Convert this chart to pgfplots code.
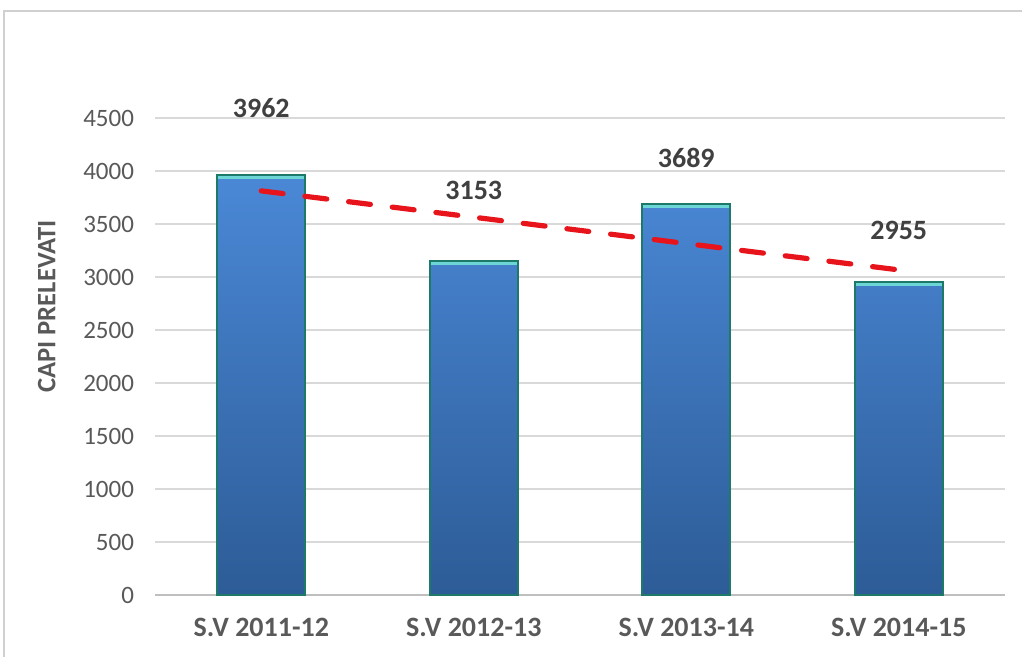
\documentclass[border=0pt]{standalone}
\usepackage{fontspec}
\setmainfont{Carlito}
\usepackage{pgfplots}
\pgfplotsset{compat=1.18}

\definecolor{tickgray}{HTML}{595959}
\definecolor{labelgray}{HTML}{404040}
\definecolor{gridgray}{HTML}{D9D9D9}
\definecolor{axisgray}{HTML}{BFBFBF}
\definecolor{framegray}{HTML}{D0D0D0}
\definecolor{barTop}{HTML}{4A88D6}
\definecolor{barBot}{HTML}{2D5C97}
\definecolor{barEdge}{HTML}{1E7A68}
\definecolor{barCap}{HTML}{6CD6D6}
\definecolor{trendred}{HTML}{E8141C}

\begin{document}
\begin{tikzpicture}
\useasboundingbox (0,0) rectangle (511pt,328.5pt);
\draw[framegray, line width=1pt] (2pt,0) -- (2pt,323pt) -- (511pt,323pt);
\begin{axis}[
    at={(77.5pt,31pt)}, anchor=south west,
    scale only axis, width=425pt, height=238.5pt,
    xmin=-0.5, xmax=3.5, ymin=0, ymax=4500,
    ytick={0,500,...,4500},
    xtick={0,1,2,3},
    xticklabels={S.V 2011-12, S.V 2012-13, S.V 2013-14, S.V 2014-15},
    axis lines*=left,
    y axis line style={draw=none},
    x axis line style={draw=axisgray, line width=0.8pt},
    major tick length=0pt,
    ymajorgrids, grid style={gridgray, line width=0.8pt},
    scaled y ticks=false,
    /pgf/number format/1000 sep={},
    /pgf/number format/assume math mode=true,
    yticklabel style={font=\fontsize{12.5}{14}\selectfont, text=tickgray, xshift=-7pt},
    xticklabel style={font=\bfseries\fontsize{14}{16}\selectfont, text=tickgray, yshift=-8pt},
    ylabel={CAPI PRELEVATI},
    ylabel style={font=\bfseries\fontsize{13.3}{15}\selectfont, text=tickgray, yshift=7pt, xshift=25pt},
    clip=false,
]
\addplot[ybar, bar width=44pt, bar shift=0pt, top color=barTop, bottom color=barBot,
    draw=barEdge, line width=0.9pt]
    coordinates {(0,3962) (1,3153) (2,3689) (3,2955)};
\addplot[only marks, mark=-, mark size=21.5pt,
    mark options={draw=barCap, line width=1.6pt, yshift=-1.2pt}]
    coordinates {(0,3962) (1,3153) (2,3689) (3,2955)};
\addplot[trendred, line width=2.6pt, dash pattern=on 11pt off 11pt, line cap=round]
    coordinates {(0,3812.5) (1,3564) (2,3315.5) (3,3067)};
\addplot[only marks, mark=none, nodes near coords, point meta=explicit symbolic,
    nodes near coords style={anchor=center, font=\bfseries\fontsize{14}{16}\selectfont, text=labelgray}]
    table[meta=lab] {
x y lab
0 4594 3962
1 3820 3153
2 4123 3689
3 3443 2955
};
\end{axis}
\end{tikzpicture}
\end{document}
